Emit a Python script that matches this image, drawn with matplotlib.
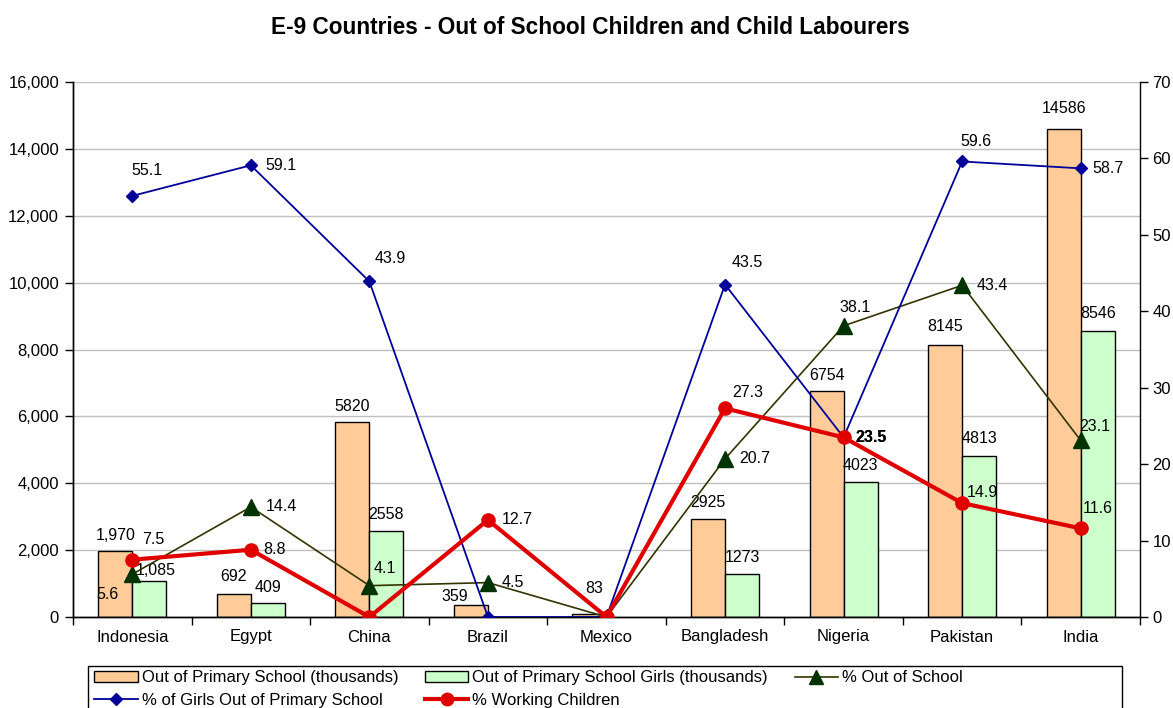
import numpy as np
import matplotlib
matplotlib.use("Agg")
import matplotlib.pyplot as plt
from matplotlib.patches import Rectangle
from matplotlib.lines import Line2D
from matplotlib.ticker import FuncFormatter, MultipleLocator

plt.rcParams['font.family'] = ['Liberation Sans', 'DejaVu Sans']

# data (thousands / percent)
countries = ['Indonesia', 'Egypt', 'China', 'Brazil', 'Mexico',
             'Bangladesh', 'Nigeria', 'Pakistan', 'India']
out_primary = [1970, 692, 5820, 359, 83, 2925, 6754, 8145, 14586]
out_primary_girls = [1085, 409, 2558, np.nan, np.nan, 1273, 4023, 4813, 8546]
pct_out_school = [5.6, 14.4, 4.1, 4.5, 0, 20.7, 38.1, 43.4, 23.1]
pct_girls_out = [55.1, 59.1, 43.9, 0, 0, 43.5, 23.5, 59.6, 58.7]
pct_working = [7.5, 8.8, 0, 12.7, 0, 27.3, 23.5, 14.9, 11.6]

# label offsets in pixels (dx, dy)
off_orange = [(0, 16), (0, 17), (0, 16), (-16, 8), (5, 26),
              (0, 17), (0, 16), (0, 18), (0, 21)]
off_girls = [(6, 10), (0, 16), (0, 17), None, None,
             (0, 17), (0, 17), (0, 18), (0, 18)]
off_green = [(-25, -20), (31, 0), (15, 17), (25, 0), None,
             (30, 0), (11, 18), (30, 0), (14, 14)]
off_blue = [(15, 25), (30, 0), (21, 23), None, None,
            (22, 22), (28, 0), (14, 20), (27, 0)]
off_red = [(21, 20), (24, 0), None, (29, 0), None,
           (23, 16), (28, 0), (20, 11), (17, 20)]

c_orange = '#FFCC99'
c_girls = '#CCFFCC'
c_green_line = '#333300'
c_green_mark = '#003300'
c_blue = '#000099'
c_red = '#E00000'
fs = 11.5

fig = plt.figure(figsize=(11.73, 7.08), dpi=100)
ax = fig.add_axes([73/1173, 1 - 617/708, (1140 - 73)/1173, (617 - 82)/708])
ax2 = ax.twinx()

x = np.arange(len(countries))
w = 0.287

ax.bar(x - w/2, out_primary, w, color=c_orange, edgecolor='black', linewidth=1, zorder=2)
ax.bar(x + w/2, out_primary_girls, w, color=c_girls, edgecolor='black', linewidth=1, zorder=2)

for i, v in enumerate(out_primary):
    txt = f"{v:,}" if i == 0 else f"{v}"
    ax.annotate(txt, (x[i] - w/2, v), xytext=off_orange[i], textcoords='offset pixels',
                ha='center', va='center', fontsize=fs, zorder=5)
for i, v in enumerate(out_primary_girls):
    if np.isnan(v):
        continue
    txt = f"{int(v):,}" if i == 0 else f"{int(v)}"
    ax.annotate(txt, (x[i] + w/2, v), xytext=off_girls[i], textcoords='offset pixels',
                ha='center', va='center', fontsize=fs, zorder=5)

ax.set_xlim(-0.5, len(countries) - 0.5)
ax.set_ylim(0, 16000)
ax.yaxis.set_major_locator(MultipleLocator(2000))
ax.yaxis.set_major_formatter(FuncFormatter(lambda v, p: f"{int(v):,}"))
ax.yaxis.grid(True, color='#BFBFBF', linewidth=1)
ax.set_axisbelow(True)

# category ticks between groups, names centred under them
ax.set_xticks(np.arange(-0.5, len(countries), 1))
ax.set_xticklabels([])
ax.set_xticks(x, minor=True)
ax.set_xticklabels(countries, minor=True)
ax.tick_params(axis='x', which='major', direction='out', length=6, width=1)
ax.tick_params(axis='x', which='minor', length=0, pad=9, labelsize=12)
ax.tick_params(axis='y', direction='out', length=6, width=1, pad=4, labelsize=12)

# percentage series on right axis
ax2.plot(x, pct_out_school, color=c_green_line, linewidth=1.2, marker='^',
         markersize=12, markerfacecolor=c_green_mark, markeredgecolor=c_green_mark, zorder=3)
ax2.plot(x, pct_girls_out, color=c_blue, linewidth=1.3, marker='D',
         markersize=6.5, markerfacecolor=c_blue, markeredgecolor=c_blue, zorder=4)
ax2.plot(x, pct_working, color=c_red, linewidth=3, marker='o',
         markersize=9.5, markerfacecolor=c_red, markeredgecolor=c_red, zorder=5)

for vals, offs, bold_idx in [(pct_out_school, off_green, None),
                             (pct_girls_out, off_blue, 6),
                             (pct_working, off_red, 6)]:
    for i, v in enumerate(vals):
        if offs[i] is None:
            continue
        ax2.annotate(f"{v:.1f}", (x[i], v), xytext=offs[i], textcoords='offset pixels',
                     ha='center', va='center', fontsize=fs,
                     fontweight='bold' if i == bold_idx else 'normal', zorder=6)

ax2.set_ylim(0, 70)
ax2.yaxis.set_major_locator(MultipleLocator(10))
ax2.tick_params(axis='y', direction='out', length=6, width=1, pad=3, labelsize=12)

for a in (ax, ax2):
    a.spines['top'].set_visible(False)
    for s in ('left', 'right', 'bottom'):
        a.spines[s].set_color('black')
        a.spines[s].set_linewidth(1)
ax.spines['right'].set_visible(False)

fig.text(590/1173, 1 - 27/708, 'E-9 Countries - Out of School Children and Child Labourers',
         ha='center', va='center', fontsize=16.3, fontweight='bold')

# legend
handles = [
    Rectangle((0, 0), 1, 1, facecolor=c_orange, edgecolor='black', linewidth=1),
    Line2D([], [], color=c_blue, linewidth=1.3, marker='D', markersize=6.5),
    Rectangle((0, 0), 1, 1, facecolor=c_girls, edgecolor='black', linewidth=1),
    Line2D([], [], color=c_red, linewidth=3, marker='o', markersize=9),
    Line2D([], [], color=c_green_line, linewidth=1.2, marker='^', markersize=10,
           markerfacecolor=c_green_mark, markeredgecolor=c_green_mark),
]
labels = ['Out of Primary School (thousands)', '% of Girls Out of Primary School',
          'Out of Primary School Girls (thousands)', '% Working Children',
          '% Out of School']
leg = fig.legend(handles, labels, ncol=3, loc='upper left',
                 bbox_to_anchor=(90/1173, 1 - 666/708), frameon=False,
                 prop={'size': 12},
                 handlelength=2.6, handleheight=0.6, handletextpad=0.25,
                 columnspacing=1.6, labelspacing=0.45, borderpad=0.25, borderaxespad=0)
fig.patches.append(Rectangle((88/1173, -0.05), (1122 - 88)/1173, 0.05 + (708 - 666)/708,
                             transform=fig.transFigure, facecolor='none',
                             edgecolor='black', linewidth=1))

fig.savefig('out.png', dpi=100)
